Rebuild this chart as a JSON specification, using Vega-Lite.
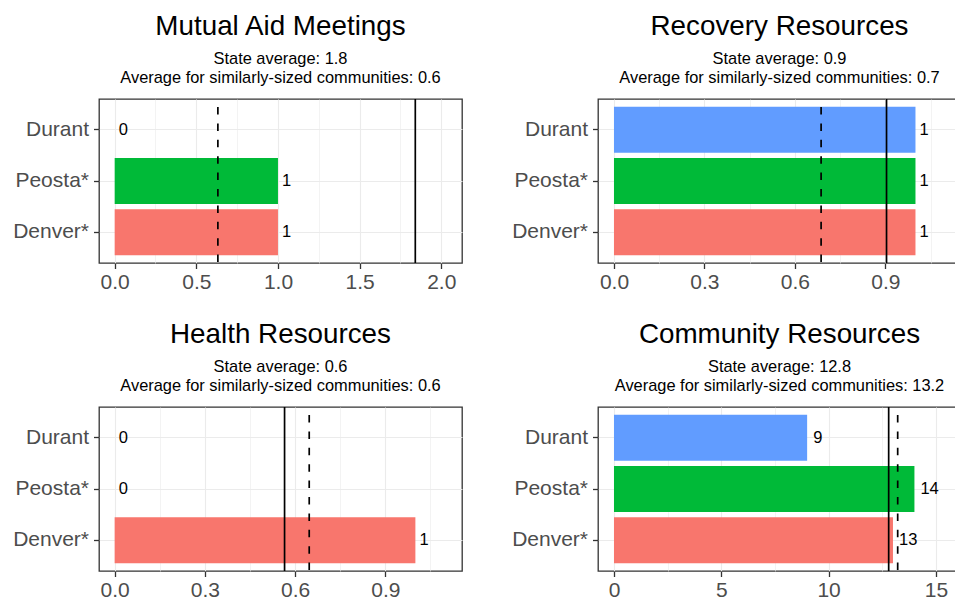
{
  "$schema": "https://vega.github.io/schema/vega-lite/v6.json",
  "padding": {"left": 11, "top": 12, "right": 0, "bottom": 0},
  "background": "white",
  "config": {
    "font": "Liberation Sans",
    "view": {"stroke": "#333333", "strokeWidth": 1.3},
    "axis": {
      "domain": false,
      "labelFont": "Liberation Sans",
      "labelFontSize": 21,
      "labelColor": "#4D4D4D",
      "tickColor": "#333333",
      "tickSize": 5.5,
      "tickWidth": 1.3,
      "gridColor": "#EBEBEB",
      "title": null,
      "labelOverlap": false
    },
    "title": {
      "font": "Liberation Sans",
      "fontSize": 27.8,
      "fontWeight": "normal",
      "color": "black",
      "subtitleFont": "Liberation Sans",
      "subtitleFontSize": 16.4,
      "subtitleColor": "black",
      "subtitleLineHeight": 18.3,
      "subtitlePadding": 11,
      "anchor": "middle",
      "frame": "group",
      "offset": 12
    }
  },
  "datasets": {
    "bars": [
      {"panel": "Mutual Aid Meetings", "community": "Durant", "value": 0},
      {"panel": "Mutual Aid Meetings", "community": "Peosta*", "value": 1},
      {"panel": "Mutual Aid Meetings", "community": "Denver*", "value": 1},
      {"panel": "Recovery Resources", "community": "Durant", "value": 1},
      {"panel": "Recovery Resources", "community": "Peosta*", "value": 1},
      {"panel": "Recovery Resources", "community": "Denver*", "value": 1},
      {"panel": "Health Resources", "community": "Durant", "value": 0},
      {"panel": "Health Resources", "community": "Peosta*", "value": 0},
      {"panel": "Health Resources", "community": "Denver*", "value": 1},
      {"panel": "Community Resources", "community": "Durant", "value": 9},
      {"panel": "Community Resources", "community": "Peosta*", "value": 14},
      {"panel": "Community Resources", "community": "Denver*", "value": 13}
    ],
    "lines": [
      {"panel": "Mutual Aid Meetings", "type": "State average", "value": 1.841},
      {"panel": "Mutual Aid Meetings", "type": "Similar communities", "value": 0.632},
      {"panel": "Recovery Resources", "type": "State average", "value": 0.904},
      {"panel": "Recovery Resources", "type": "Similar communities", "value": 0.687},
      {"panel": "Health Resources", "type": "State average", "value": 0.565},
      {"panel": "Health Resources", "type": "Similar communities", "value": 0.647},
      {"panel": "Community Resources", "type": "State average", "value": 12.8},
      {"panel": "Community Resources", "type": "Similar communities", "value": 13.22}
    ]
  },
  "columns": 2,
  "spacing": {"row": 26, "column": 47},
  "concat": [
    {
      "title": {"text": "Mutual Aid Meetings", "subtitle": ["State average: 1.8", "Average for similarly-sized communities: 0.6"]},
      "width": 363, "height": 164,
      "layer": [
        {
          "data": {"name": "bars"},
          "transform": [{"filter": "datum.panel == 'Mutual Aid Meetings'"}],
          "mark": {"type": "bar"},
          "encoding": {
            "y": {"field": "community", "type": "nominal", "sort": ["Durant", "Peosta*", "Denver*"], "scale": {"paddingInner": 0.1, "paddingOuter": 0.15}, "axis": {"grid": true, "bandPosition": 0.5, "gridWidth": 1.1, "labelPadding": 5}},
            "x": {"field": "value", "type": "quantitative", "scale": {"domain": [-0.096, 2.127], "nice": false, "zero": false},
              "axis": {"values": [0, 0.25, 0.5, 0.75, 1, 1.25, 1.5, 1.75, 2], "format": ".1f", "grid": true, "labelPadding": 3,
                "labelOpacity": {"condition": {"test": "abs(datum.value*2 - round(datum.value*2)) < 0.001", "value": 1}, "value": 0},
                "tickOpacity": {"condition": {"test": "abs(datum.value*2 - round(datum.value*2)) < 0.001", "value": 1}, "value": 0},
                "gridWidth": {"condition": {"test": "abs(datum.value*2 - round(datum.value*2)) < 0.001", "value": 1.1}, "value": 0.6}}},
            "x2": {"datum": 0},
            "color": {"field": "community", "type": "nominal", "scale": {"domain": ["Denver*", "Peosta*", "Durant"], "range": ["#F8766D", "#00BA38", "#619CFF"]}, "legend": null}
          }
        },
        {
          "data": {"name": "bars"},
          "transform": [{"filter": "datum.panel == 'Mutual Aid Meetings'"}],
          "mark": {"type": "text", "align": "left", "baseline": "middle", "dx": 4, "fontSize": 16.5, "color": "black"},
          "encoding": {
            "y": {"field": "community", "type": "nominal", "sort": ["Durant", "Peosta*", "Denver*"]},
            "x": {"field": "value", "type": "quantitative"},
            "text": {"field": "value", "type": "quantitative", "format": "d"}
          }
        },
        {
          "data": {"name": "lines"},
          "transform": [{"filter": "datum.panel == 'Mutual Aid Meetings'"}],
          "mark": {"type": "rule", "strokeWidth": 1.7, "color": "black", "strokeDashOffset": 8.4},
          "encoding": {
            "x": {"field": "value", "type": "quantitative"},
            "strokeDash": {"field": "type", "type": "nominal", "scale": {"domain": ["State average", "Similar communities"], "range": [[1, 0], [7.5, 8.9]]}, "legend": null}
          }
        }
      ]
    },
    {
      "title": {"text": "Recovery Resources", "subtitle": ["State average: 0.9", "Average for similarly-sized communities: 0.7"]},
      "width": 363, "height": 164,
      "layer": [
        {
          "data": {"name": "bars"},
          "transform": [{"filter": "datum.panel == 'Recovery Resources'"}],
          "mark": {"type": "bar"},
          "encoding": {
            "y": {"field": "community", "type": "nominal", "sort": ["Durant", "Peosta*", "Denver*"], "scale": {"paddingInner": 0.1, "paddingOuter": 0.15}, "axis": {"grid": true, "bandPosition": 0.5, "gridWidth": 1.1, "labelPadding": 5}},
            "x": {"field": "value", "type": "quantitative", "scale": {"domain": [-0.053, 1.151], "nice": false, "zero": false},
              "axis": {"values": [0, 0.15, 0.3, 0.45, 0.6, 0.75, 0.9, 1.05], "format": ".1f", "grid": true, "labelPadding": 3,
                "labelOpacity": {"condition": {"test": "abs(datum.value/0.3 - round(datum.value/0.3)) < 0.001", "value": 1}, "value": 0},
                "tickOpacity": {"condition": {"test": "abs(datum.value/0.3 - round(datum.value/0.3)) < 0.001", "value": 1}, "value": 0},
                "gridWidth": {"condition": {"test": "abs(datum.value/0.3 - round(datum.value/0.3)) < 0.001", "value": 1.1}, "value": 0.6}}},
            "x2": {"datum": 0},
            "color": {"field": "community", "type": "nominal", "scale": {"domain": ["Denver*", "Peosta*", "Durant"], "range": ["#F8766D", "#00BA38", "#619CFF"]}, "legend": null}
          }
        },
        {
          "data": {"name": "bars"},
          "transform": [{"filter": "datum.panel == 'Recovery Resources'"}],
          "mark": {"type": "text", "align": "left", "baseline": "middle", "dx": 4, "fontSize": 16.5, "color": "black"},
          "encoding": {
            "y": {"field": "community", "type": "nominal", "sort": ["Durant", "Peosta*", "Denver*"]},
            "x": {"field": "value", "type": "quantitative"},
            "text": {"field": "value", "type": "quantitative", "format": "d"}
          }
        },
        {
          "data": {"name": "lines"},
          "transform": [{"filter": "datum.panel == 'Recovery Resources'"}],
          "mark": {"type": "rule", "strokeWidth": 1.7, "color": "black", "strokeDashOffset": 8.4},
          "encoding": {
            "x": {"field": "value", "type": "quantitative"},
            "strokeDash": {"field": "type", "type": "nominal", "scale": {"domain": ["State average", "Similar communities"], "range": [[1, 0], [7.5, 8.9]]}, "legend": null}
          }
        }
      ]
    },
    {
      "title": {"text": "Health Resources", "subtitle": ["State average: 0.6", "Average for similarly-sized communities: 0.6"]},
      "width": 363, "height": 164,
      "layer": [
        {
          "data": {"name": "bars"},
          "transform": [{"filter": "datum.panel == 'Health Resources'"}],
          "mark": {"type": "bar"},
          "encoding": {
            "y": {"field": "community", "type": "nominal", "sort": ["Durant", "Peosta*", "Denver*"], "scale": {"paddingInner": 0.1, "paddingOuter": 0.15}, "axis": {"grid": true, "bandPosition": 0.5, "gridWidth": 1.1, "labelPadding": 5}},
            "x": {"field": "value", "type": "quantitative", "scale": {"domain": [-0.052, 1.155], "nice": false, "zero": false},
              "axis": {"values": [0, 0.15, 0.3, 0.45, 0.6, 0.75, 0.9, 1.05], "format": ".1f", "grid": true, "labelPadding": 3,
                "labelOpacity": {"condition": {"test": "abs(datum.value/0.3 - round(datum.value/0.3)) < 0.001", "value": 1}, "value": 0},
                "tickOpacity": {"condition": {"test": "abs(datum.value/0.3 - round(datum.value/0.3)) < 0.001", "value": 1}, "value": 0},
                "gridWidth": {"condition": {"test": "abs(datum.value/0.3 - round(datum.value/0.3)) < 0.001", "value": 1.1}, "value": 0.6}}},
            "x2": {"datum": 0},
            "color": {"field": "community", "type": "nominal", "scale": {"domain": ["Denver*", "Peosta*", "Durant"], "range": ["#F8766D", "#00BA38", "#619CFF"]}, "legend": null}
          }
        },
        {
          "data": {"name": "bars"},
          "transform": [{"filter": "datum.panel == 'Health Resources'"}],
          "mark": {"type": "text", "align": "left", "baseline": "middle", "dx": 4, "fontSize": 16.5, "color": "black"},
          "encoding": {
            "y": {"field": "community", "type": "nominal", "sort": ["Durant", "Peosta*", "Denver*"]},
            "x": {"field": "value", "type": "quantitative"},
            "text": {"field": "value", "type": "quantitative", "format": "d"}
          }
        },
        {
          "data": {"name": "lines"},
          "transform": [{"filter": "datum.panel == 'Health Resources'"}],
          "mark": {"type": "rule", "strokeWidth": 1.7, "color": "black", "strokeDashOffset": 8.4},
          "encoding": {
            "x": {"field": "value", "type": "quantitative"},
            "strokeDash": {"field": "type", "type": "nominal", "scale": {"domain": ["State average", "Similar communities"], "range": [[1, 0], [7.5, 8.9]]}, "legend": null}
          }
        }
      ]
    },
    {
      "title": {"text": "Community Resources", "subtitle": ["State average: 12.8", "Average for similarly-sized communities: 13.2"]},
      "width": 363, "height": 164,
      "layer": [
        {
          "data": {"name": "bars"},
          "transform": [{"filter": "datum.panel == 'Community Resources'"}],
          "mark": {"type": "bar"},
          "encoding": {
            "y": {"field": "community", "type": "nominal", "sort": ["Durant", "Peosta*", "Denver*"], "scale": {"paddingInner": 0.1, "paddingOuter": 0.15}, "axis": {"grid": true, "bandPosition": 0.5, "gridWidth": 1.1, "labelPadding": 5}},
            "x": {"field": "value", "type": "quantitative", "scale": {"domain": [-0.745, 16.17], "nice": false, "zero": false},
              "axis": {"values": [0, 2.5, 5, 7.5, 10, 12.5, 15], "format": "d", "grid": true, "labelPadding": 3,
                "labelOpacity": {"condition": {"test": "datum.value % 5 == 0", "value": 1}, "value": 0},
                "tickOpacity": {"condition": {"test": "datum.value % 5 == 0", "value": 1}, "value": 0},
                "gridWidth": {"condition": {"test": "datum.value % 5 == 0", "value": 1.1}, "value": 0.6}}},
            "x2": {"datum": 0},
            "color": {"field": "community", "type": "nominal", "scale": {"domain": ["Denver*", "Peosta*", "Durant"], "range": ["#F8766D", "#00BA38", "#619CFF"]}, "legend": null}
          }
        },
        {
          "data": {"name": "bars"},
          "transform": [{"filter": "datum.panel == 'Community Resources'"}],
          "mark": {"type": "text", "align": "left", "baseline": "middle", "dx": 6, "fontSize": 16.5, "color": "black"},
          "encoding": {
            "y": {"field": "community", "type": "nominal", "sort": ["Durant", "Peosta*", "Denver*"]},
            "x": {"field": "value", "type": "quantitative"},
            "text": {"field": "value", "type": "quantitative", "format": "d"}
          }
        },
        {
          "data": {"name": "lines"},
          "transform": [{"filter": "datum.panel == 'Community Resources'"}],
          "mark": {"type": "rule", "strokeWidth": 1.7, "color": "black", "strokeDashOffset": 8.4},
          "encoding": {
            "x": {"field": "value", "type": "quantitative"},
            "strokeDash": {"field": "type", "type": "nominal", "scale": {"domain": ["State average", "Similar communities"], "range": [[1, 0], [7.5, 8.9]]}, "legend": null}
          }
        }
      ]
    }
  ]
}
